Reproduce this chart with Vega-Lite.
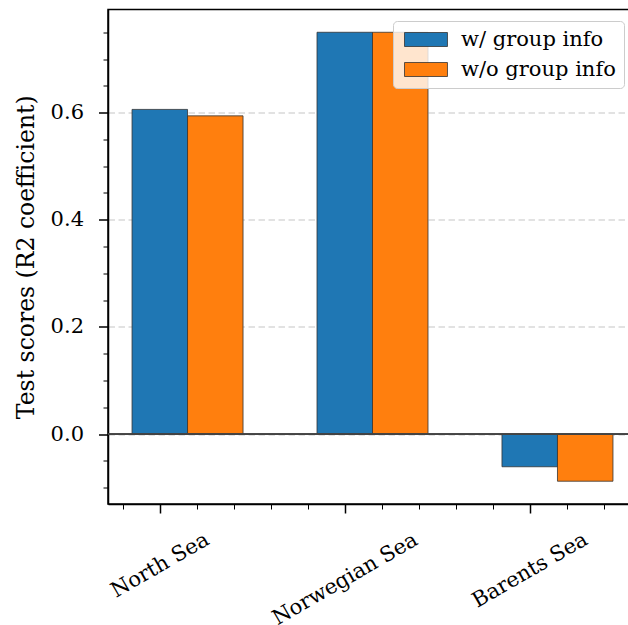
{
  "$schema": "https://vega.github.io/schema/vega-lite/v6.json",
  "autosize": "none",
  "padding": {"left": 108, "top": 9.5, "right": 0, "bottom": 121},
  "width": 529,
  "height": 494.5,
  "background": "white",
  "config": {
    "view": {"stroke": "black", "strokeWidth": 1.5},
    "font": "DejaVu Serif"
  },
  "data": {
    "values": [
      {"region": "North Sea", "pos": 0, "group": "w/ group info", "score": 0.606},
      {"region": "North Sea", "pos": 0, "group": "w/o group info", "score": 0.594},
      {"region": "Norwegian Sea", "pos": 1, "group": "w/ group info", "score": 0.750},
      {"region": "Norwegian Sea", "pos": 1, "group": "w/o group info", "score": 0.750},
      {"region": "Barents Sea", "pos": 2, "group": "w/ group info", "score": -0.061},
      {"region": "Barents Sea", "pos": 2, "group": "w/o group info", "score": -0.088}
    ]
  },
  "resolve": {"axis": {"x": "independent", "y": "independent"}},
  "layer": [
    {
      "transform": [{"filter": "datum.group === 'w/ group info'"}],
      "mark": {"type": "bar", "width": 55.5, "stroke": "#333333", "strokeWidth": 0.8, "opacity": 1},
      "encoding": {
        "x": {
          "field": "pos", "type": "quantitative",
          "scale": {"domain": [-0.28, 2.58], "nice": false, "zero": false, "padding": 0},
          "axis": {
            "orient": "bottom", "values": [0, 1, 2], "title": null, "grid": false,
            "labelExpr": "['North Sea','Norwegian Sea','Barents Sea'][datum.value]",
            "labelFont": "DejaVu Serif", "labelFontSize": 21, "labelColor": "black",
            "labelAngle": -30, "labelAlign": "center", "labelBaseline": "middle",
            "labelPadding": {"condition": [{"test": "datum.value == 1", "value": 66}, {"test": "datum.value == 2", "value": 57}], "value": 52},
            "labelFlush": false, "labelOverlap": false, "labelBound": false,
            "tickSize": 9, "tickWidth": 1.5, "tickColor": "black",
            "domainColor": "black", "domainWidth": 1.5
          }
        },
        "y": {
          "field": "score", "type": "quantitative",
          "scale": {"domain": [-0.1305, 0.7925], "nice": false, "zero": false},
          "axis": {
            "orient": "left", "values": [0, 0.2, 0.4, 0.6], "format": ".1f",
            "title": "Test scores (R2 coefficient)",
            "titleFont": "DejaVu Serif", "titleFontSize": 23.5, "titleFontWeight": "normal", "titleColor": "black",
            "titleAngle": -90, "titleAlign": "center", "titleBaseline": "alphabetic",
            "titleX": -75, "titleY": 247.25,
            "labelFont": "DejaVu Serif", "labelFontSize": 21, "labelColor": "black", "labelPadding": 15,
            "tickSize": 9.5, "tickWidth": 1.5, "tickColor": "black",
            "domainColor": "black", "domainWidth": 1.5,
            "grid": true, "gridColor": "#d9d9d9", "gridDash": [6.5, 3.5], "gridWidth": 1.5
          }
        },
        "color": {
          "field": "group", "type": "nominal",
          "scale": {"domain": ["w/ group info", "w/o group info"], "range": ["#1f77b4", "#ff7f0e"]},
          "legend": {
            "orient": "none", "legendX": 285, "legendY": 11.5, "title": null,
            "symbolType": "M-1,-1H5.14V1H-1Z", "symbolSize": 196,
            "symbolStrokeColor": "#333333", "symbolStrokeWidth": 0.8, "symbolOpacity": 1,
            "labelFont": "DejaVu Serif", "labelFontSize": 21, "labelColor": "black",
            "labelOffset": 39, "rowPadding": 8, "padding": 8,
            "fillColor": "rgba(255,255,255,0.8)", "strokeColor": "#cccccc", "cornerRadius": 4
          }
        }
      }
    },
    {
      "transform": [{"filter": "datum.group === 'w/o group info'"}],
      "mark": {"type": "bar", "width": 55.5, "xOffset": 55.5, "stroke": "#333333", "strokeWidth": 0.8, "opacity": 1},
      "encoding": {
        "x": {
          "field": "pos", "type": "quantitative",
          "scale": {"domain": [-0.28, 2.58], "nice": false, "zero": false, "padding": 0},
          "axis": {
            "orient": "bottom", "values": [-0.2, 0.2, 0.4, 0.6, 0.8, 1.2, 1.4, 1.6, 1.8, 2.2, 2.4],
            "title": null, "labels": false, "domain": false, "grid": false,
            "tickSize": 5, "tickWidth": 1, "tickColor": "black"
          }
        },
        "y": {
          "field": "score", "type": "quantitative",
          "scale": {"domain": [-0.1305, 0.7925], "nice": false, "zero": false},
          "axis": {
            "orient": "left", "values": [-0.1, -0.05, 0.05, 0.1, 0.15, 0.25, 0.3, 0.35, 0.45, 0.5, 0.55, 0.65, 0.7, 0.75],
            "title": null, "labels": false, "domain": false, "grid": false,
            "tickSize": 5, "tickWidth": 1, "tickColor": "black"
          }
        },
        "color": {"field": "group", "type": "nominal"}
      }
    },
    {
      "mark": {"type": "rule", "color": "#444444", "strokeWidth": 1},
      "encoding": {
        "y": {"datum": 0, "type": "quantitative", "axis": null}
      }
    }
  ]
}
